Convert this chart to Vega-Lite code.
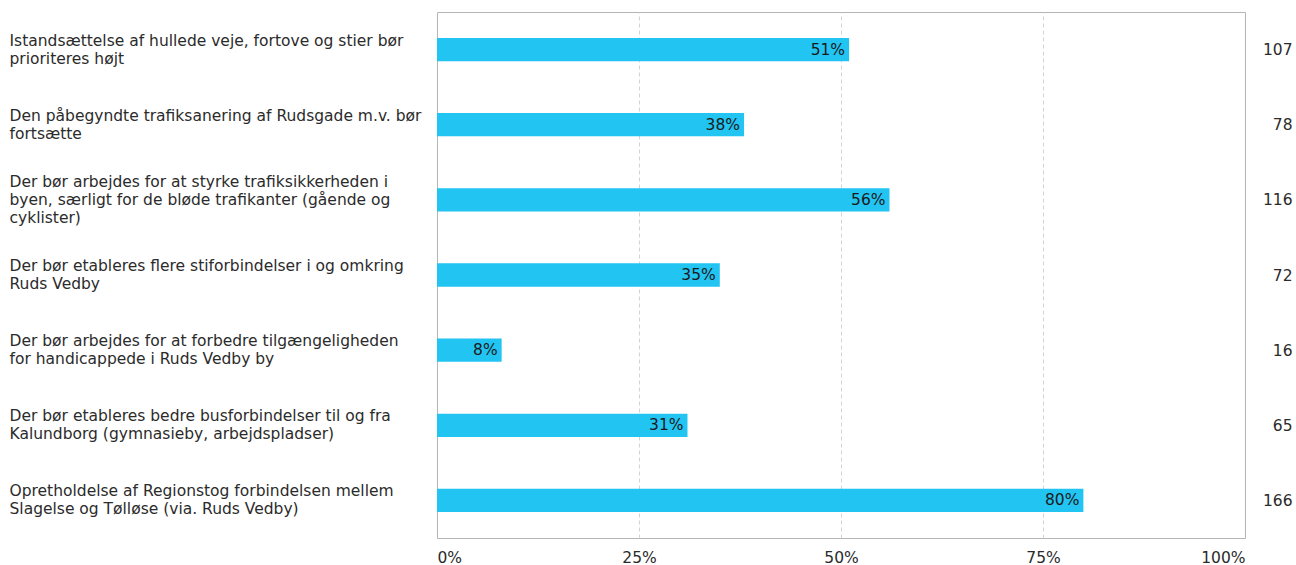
{
  "$schema": "https://vega.github.io/schema/vega-lite/v6.json",
  "width": 808,
  "height": 526,
  "padding": {"left": 9, "top": 12, "right": 4, "bottom": 5},
  "background": "white",
  "config": {
    "font": "DejaVu Sans",
    "view": {"stroke": "#b5b5b5", "strokeWidth": 1},
    "axis": {"labelFont": "DejaVu Sans", "labelFontSize": 15.5, "labelColor": "#2b2b2b"}
  },
  "data": {
    "values": [
      {"label": "Istandsættelse af hullede veje, fortove og stier bør|prioriteres højt", "pct": 0.51, "n": "107"},
      {"label": "Den påbegyndte trafiksanering af Rudsgade m.v. bør|fortsætte", "pct": 0.38, "n": "78"},
      {"label": "Der bør arbejdes for at styrke trafiksikkerheden i|byen, særligt for de bløde trafikanter (gående og|cyklister)", "pct": 0.56, "n": "116"},
      {"label": "Der bør etableres flere stiforbindelser i og omkring|Ruds Vedby", "pct": 0.35, "n": "72"},
      {"label": "Der bør arbejdes for at forbedre tilgængeligheden|for handicappede i Ruds Vedby by", "pct": 0.08, "n": "16"},
      {"label": "Der bør etableres bedre busforbindelser til og fra|Kalundborg (gymnasieby, arbejdspladser)", "pct": 0.31, "n": "65"},
      {"label": "Opretholdelse af Regionstog forbindelsen mellem|Slagelse og Tølløse (via. Ruds Vedby)", "pct": 0.80, "n": "166"}
    ]
  },
  "encoding": {
    "x": {
      "field": "pct",
      "type": "quantitative",
      "scale": {"domain": [0, 1], "nice": false},
      "axis": {
        "title": null,
        "values": [0, 0.25, 0.5, 0.75, 1],
        "format": ".0%",
        "domain": false,
        "ticks": false,
        "labelFlush": true,
        "labelPadding": 12,
        "grid": true,
        "gridDash": [4, 3],
        "gridColor": {"condition": {"test": "datum.value == 0 || datum.value == 1", "value": "transparent"}, "value": "#d3d3d3"}
      }
    }
  },
  "layer": [
    {
      "mark": {"type": "bar", "color": "#22C4F2"},
      "encoding": {
        "y": {
          "field": "label",
          "type": "nominal",
          "sort": null,
          "scale": {"paddingInner": 0.69, "paddingOuter": 0.345},
          "axis": {
            "title": null,
            "orient": "left",
            "domain": false,
            "ticks": false,
            "labelAlign": "left",
            "labelPadding": 428,
            "labelLimit": 0,
            "labelLineHeight": 18,
            "labelOffset": {"condition": {"test": "length(split(datum.label, '|')) == 3", "value": -18}, "value": -9},
            "labelExpr": "split(datum.label, '|')"
          }
        }
      }
    },
    {
      "mark": {"type": "text", "align": "right", "baseline": "middle", "dx": -4, "fontSize": 15.5, "color": "#1a1a1a", "font": "DejaVu Sans"},
      "encoding": {
        "y": {
          "field": "n",
          "type": "nominal",
          "sort": null,
          "scale": {"paddingInner": 0.69, "paddingOuter": 0.345},
          "axis": {
            "title": null,
            "orient": "right",
            "domain": false,
            "ticks": false,
            "labelAlign": "right",
            "labelPadding": 47,
            "labelLimit": 0
          }
        },
        "text": {"field": "pct", "type": "quantitative", "format": ".0%"}
      }
    }
  ],
  "resolve": {"scale": {"y": "independent"}, "axis": {"y": "independent"}}
}
